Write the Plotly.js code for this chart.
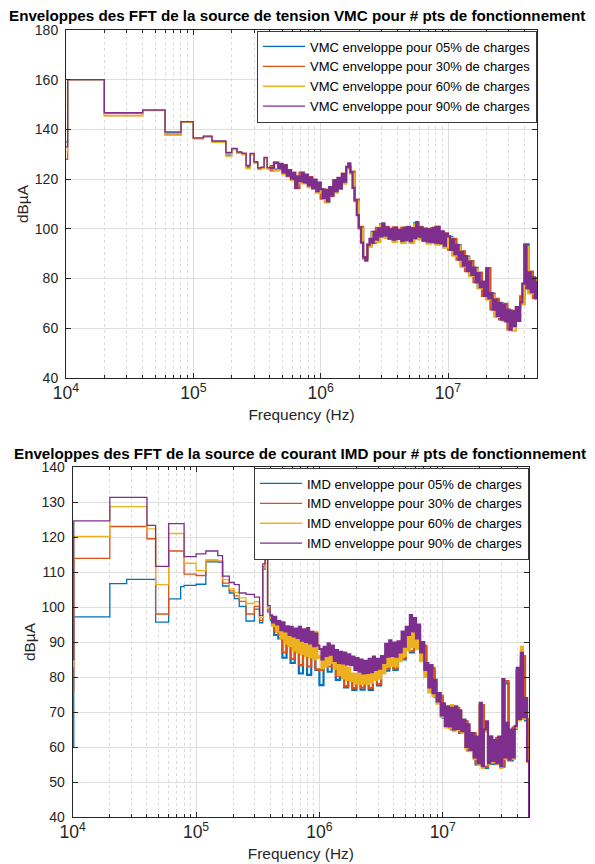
<!DOCTYPE html>
<html><head><meta charset="utf-8">
<script src="https://cdn.plot.ly/plotly-3.0.1.min.js"></script>
<style>html,body{margin:0;padding:0;background:#fff}#chart{width:595px;height:864px}</style>
</head><body><div id="chart"></div>
<script>
// ---------- frequency grids (Hz) ----------
const stepsTopF = [1e4,1.03e4,2e4,4e4,6e4,8e4,1e5,1.2e5,1.4e5,1.6e5,1.8e5,2e5,2.2e5,2.4e5,2.6e5,2.8e5,3e5,3.2e5,3.4e5,3.6e5,3.8e5];
const stepsBotF = [1e4,1.02e4,2e4,2.74e4,4e4,4.7e4,6e4,7.5e4,8e4,1e5,1.2e5,1.5e5,1.64e5,1.86e5,2.04e5,2.24e5,2.54e5,2.97e5,3.27e5,3.47e5,3.63e5,3.8e5];
const gridFine = [3.981e5,4.137e5,4.299e5,4.467e5,4.642e5,4.823e5,5.012e5,5.208e5,5.412e5,5.623e5,5.843e5,6.072e5,6.310e5,6.556e5,6.813e5,7.079e5,7.356e5,7.644e5,7.943e5,8.254e5,8.577e5,8.913e5,9.261e5,9.624e5,
1.000e6,1.039e6,1.080e6,1.122e6,1.166e6,1.212e6,1.259e6,1.308e6,1.359e6,1.413e6,1.468e6,1.525e6,1.585e6,1.647e6,1.711e6,1.778e6,1.848e6,1.920e6,1.995e6,2.073e6,2.154e6,2.239e6,2.326e6,2.417e6,2.512e6,2.610e6,2.712e6,2.818e6,2.929e6,3.043e6,3.162e6,3.286e6,3.415e6,3.548e6,3.687e6,3.831e6,3.981e6,4.137e6,4.299e6,4.467e6,4.642e6,4.823e6,5.012e6,5.208e6,5.412e6,5.623e6,5.843e6,6.072e6,6.310e6,6.556e6,6.813e6,7.079e6,7.356e6,7.644e6,7.943e6,8.254e6,8.577e6,8.913e6,9.261e6,9.624e6,
1.000e7,1.039e7,1.080e7,1.122e7,1.166e7,1.212e7,1.259e7,1.308e7,1.359e7,1.413e7,1.468e7,1.525e7,1.585e7,1.647e7,1.711e7,1.778e7,1.848e7,1.920e7,1.995e7,2.073e7,2.154e7,2.239e7,2.326e7,2.417e7,2.512e7,2.610e7,2.712e7,2.818e7,2.929e7,3.043e7,3.162e7,3.286e7,3.415e7,3.548e7,3.687e7,3.831e7,3.981e7,4.137e7,4.299e7,4.467e7,4.642e7,4.823e7,5.012e7];
const gridCoarse = [3.981e5,4.299e5,4.642e5,5.012e5,5.412e5,5.843e5,6.310e5,6.813e5,7.356e5,7.943e5,8.577e5,9.261e5,
1.000e6,1.080e6,1.166e6,1.259e6,1.359e6,1.468e6,1.585e6,1.711e6,1.848e6,1.995e6,2.154e6,2.326e6,2.512e6,2.712e6,2.929e6,3.162e6,3.415e6,3.687e6,3.981e6,4.299e6,4.642e6,5.012e6,5.412e6,5.843e6,6.310e6,6.813e6,7.356e6,7.943e6,8.577e6,9.261e6,
1.000e7,1.080e7,1.166e7,1.259e7,1.359e7,1.468e7,1.585e7,1.711e7,1.848e7,1.995e7,2.154e7,2.326e7,2.512e7,2.712e7,2.929e7,3.162e7,3.415e7,3.687e7,3.981e7,4.299e7,4.642e7,5.012e7];

// ---------- VMC (top chart) values, dBuA ----------
const vmc05Steps = [135,160,146.6,147.8,138.6,143.1,136.4,137.2,135.2,135.2,130.2,132.2,130.8,130.2,125.0,130.2,126.8,124.4,124.6,128.5,124.4];
const vmc30Steps = [128,160,145.6,147.7,137.8,143.0,136.3,137.0,134.9,134.9,129.5,132.0,130.6,130.0,124.5,130.0,126.6,124.0,124.4,128.4,124.2];
const vmc60Steps = [131,160,145.5,147.6,137.7,142.9,136.2,136.9,134.8,134.8,129.3,131.8,130.4,129.8,124.2,129.8,126.4,123.8,124.2,128.2,124.0];
const vmc90Steps = [133,160,146.8,147.8,139.0,143.1,136.6,137.3,135.4,135.4,130.8,132.4,131.0,130.5,125.5,130.4,127.0,124.5,124.8,128.7,124.6];
const vmc05Noise = [125.2,123.8,126.0,122.4,123.4,120.0,121.0,118.8,121.6,117.0,119.6,114.8,
115.8,110.8,116.6,115.0,120.4,118.6,124.5,122.5,111.2,100.2,88.0,93.0,
98.8,95.4,101.8,96.8,99.8,95.2,99.4,94.8,100.6,94.6,102.2,96.4,99.8,94.4,100.2,94.0,98.8,92.6,
96.8,89.6,93.4,85.0,88.8,81.2,84.2,76.2,78.6,72.0,74.0,64.8,70.0,63.2,67.2,60.8,68.2,69.8,93.8,74.2,80.2,77.0];
const vmc30Noise = [123.5,126.8,124.0,125.6,121.2,122.6,116.4,122.6,118.4,120.8,116.2,118.6,
112.2,115.8,113.2,119.6,116.2,122.2,125.0,123.0,111.8,100.8,88.6,93.8,
94.4,100.4,97.0,100.8,96.0,100.6,96.0,100.5,95.4,100.4,96.2,100.8,95.2,100.0,94.6,100.9,94.0,98.2,
91.6,96.0,87.6,91.0,83.0,87.0,78.6,82.4,73.0,84.2,67.6,71.8,63.6,69.8,59.6,67.0,63.2,72.8,76.2,82.8,72.2,80.6];
const vmc60Noise = [124.8,123.4,125.8,122.0,123.2,119.6,120.6,118.4,121.2,116.8,119.2,114.6,
115.4,110.6,116.2,114.6,120.0,118.2,124.2,122.2,111.0,100.0,87.8,92.8,
98.4,94.8,101.4,96.4,99.4,94.8,99.0,94.4,100.2,94.4,101.8,95.8,99.4,94.0,99.8,93.6,98.4,92.4,
96.4,89.2,93.0,84.8,88.4,81.0,83.8,76.0,78.2,71.6,73.6,64.6,69.6,63.0,66.8,59.0,67.8,69.6,92.8,74.0,79.8,76.6];
const vmc90Noise = [124.5,124.6,126.6,126.4,124.5,126.2,122.7,125.5,121.5,123.6,120.2,122.4,116.5,121.0,119.2,122.5,118.8,121.8,117.5,120.6,116.5,119.8,115.2,118.5,
116.0,112.5,115.6,111.0,116.8,113.5,119.5,115.2,120.5,116.4,122.0,119.0,124.8,126.4,122.8,116.5,111.5,105.5,100.5,94.5,
88.5,87.2,93.5,96.0,94.5,98.8,95.8,100.2,97.0,102.2,97.4,100.5,96.2,100.0,95.7,100.4,96.0,99.6,95.2,100.3,
95.6,100.8,95.1,100.2,96.3,102.7,97.0,100.5,95.4,100.1,95.0,99.8,94.8,100.4,94.5,100.7,94.3,99.0,93.2,98.0,
97.0,91.5,95.8,89.8,93.6,87.6,90.8,85.2,89.0,83.0,86.8,81.5,84.4,78.5,82.2,76.5,78.8,73.0,84.0,72.0,
74.2,67.5,71.5,65.0,70.2,63.5,69.5,62.8,67.5,59.5,66.8,61.0,68.5,63.0,70.5,78.0,93.5,76.0,82.5,74.5,80.5,72.0,79.0];

// ---------- IMD (bottom chart) values, dBuA ----------
const imd05Steps = [60,97.2,106.7,107.9,107.9,95.7,102.3,105.8,106.2,106.5,112.9,112.8,106.0,104.0,102.4,100.2,96.0,99.4,95.5,110.8,117.3,98.6];
const imd30Steps = [76,113.9,123.0,123.0,119.5,98.0,116.0,116.0,109.4,109.0,113.4,113.0,106.8,104.6,103.2,101.6,98.0,100.2,96.2,111.5,117.8,99.2];
const imd60Steps = [83,120.2,128.7,128.7,122.3,106.4,121.0,121.0,112.5,110.4,113.4,113.2,107.8,105.2,104.2,102.6,101.0,101.5,97.0,111.2,117.4,99.6];
const imd90Steps = [85,124.6,131.3,131.3,123.3,111.6,123.8,123.8,114.4,115.2,116.0,114.7,108.8,107.0,106.4,104.0,103.6,102.8,97.6,112.3,118.0,100.4];
const imd05Noise = [96.2,92.0,91.0,85.5,90.4,84.0,88.8,81.0,87.5,80.6,86.2,82.0,
77.7,86.0,81.5,85.2,79.2,80.6,77.0,80.2,76.3,79.6,76.4,79.2,
76.3,80.0,77.6,81.6,81.8,85.6,82.0,86.4,85.0,89.6,87.0,92.4,88.0,88.6,81.0,82.0,74.4,74.0,
68.4,70.6,65.0,70.6,64.0,67.0,59.0,63.6,55.0,71.4,54.0,62.6,55.2,62.2,54.4,78.2,56.2,65.2,81.4,85.4,67.6,50.0];
const imd30Noise = [96.8,93.0,92.0,87.0,91.0,85.2,89.6,83.4,88.0,83.0,86.8,82.2,
82.0,86.5,83.0,86.0,80.4,81.0,77.4,80.5,76.8,80.0,77.0,79.6,
76.8,80.2,78.0,82.0,82.4,86.0,82.4,86.5,85.2,90.0,87.4,92.0,88.4,89.0,81.5,82.6,74.8,74.6,
68.8,71.0,65.2,71.2,64.4,67.4,59.2,64.0,55.4,72.0,54.4,63.0,55.6,62.6,54.8,78.8,56.6,65.6,82.0,86.0,68.0,52.0];
const imd60Noise = [96.8,94.6,96.0,93.0,94.6,91.0,93.5,89.5,92.8,88.8,92.4,87.6,92.0,87.0,91.6,86.6,91.2,86.0,90.4,85.6,91.0,85.0,92.9,85.4,
86.0,82.5,86.4,83.0,88.5,84.0,87.2,82.4,84.8,80.6,83.9,79.6,83.4,79.2,82.6,78.8,81.0,78.2,80.8,78.0,
81.0,78.2,80.6,78.0,81.2,78.4,83.0,79.2,83.9,79.6,84.6,81.0,87.0,83.0,87.7,83.2,87.0,83.0,87.4,84.5,
90.5,86.0,91.5,87.7,92.4,88.5,93.0,88.0,92.0,84.5,88.4,80.0,82.6,75.6,82.0,74.6,78.4,72.4,74.6,68.6,
71.8,65.6,71.0,65.4,72.0,64.6,70.8,64.8,69.8,64.0,67.0,59.6,65.8,58.8,63.4,56.6,62.4,55.0,72.0,54.0,
64.4,66.8,55.0,62.4,55.6,61.4,55.0,62.4,54.0,78.6,56.6,66.2,56.0,64.4,56.6,65.4,82.0,67.6,88.6,68.0,73.4,55.6,41.0];
const imd90Noise = [97.6,95.6,97.2,95.0,96.0,93.4,95.6,93.0,94.5,92.0,94.3,91.6,93.8,91.2,94.3,90.4,93.6,90.0,94.0,89.6,92.9,88.8,92.4,89.0,
88.0,85.0,88.6,86.0,89.6,86.4,89.0,84.6,87.7,84.0,87.2,83.9,87.0,83.6,86.5,83.4,85.8,82.0,85.4,81.5,
85.0,81.0,84.6,81.2,85.2,81.4,85.8,82.0,85.2,82.4,86.0,84.0,89.5,85.8,90.5,86.0,89.8,85.8,90.2,87.0,
93.0,88.7,94.3,92.0,97.7,93.0,96.8,91.0,95.0,87.0,90.0,82.0,84.0,77.0,83.4,75.4,79.2,73.0,75.4,69.0,
72.5,66.0,71.6,65.9,71.2,65.0,71.6,65.2,70.5,64.5,67.8,60.0,66.5,59.2,64.0,57.0,63.0,55.4,72.6,54.5,
65.0,67.3,55.4,63.0,56.0,62.0,55.4,63.0,54.5,79.4,57.0,66.9,56.4,65.0,57.0,66.0,82.6,68.0,86.9,68.5,74.0,56.0,40.0];

const loads = ['05','30','60','90'];
const colors = ['#0072BD','#D95319','#EDB120','#7E2F8E'];
const FONT = 'Liberation Sans, Arial, Helvetica, sans-serif';

// each series = a stair trace for the low-frequency bins + a denser band trace for the noisy part
function series(sx, sy, nx, ny, i, prefix, xa, ya, leg) {
  const name = prefix + ' enveloppe pour ' + loads[i] + '% de charges';
  const grp = prefix + i;
  return [
    {x: sx.concat(nx.slice(0, 1)), y: sy.concat(ny.slice(0, 1)), type: 'scatter', mode: 'lines',
     line: {shape: 'hv', color: colors[i], width: 1.3, simplify: false},
     name: name, legendgroup: grp, xaxis: xa, yaxis: ya, legend: leg, hoverinfo: 'skip'},
    {x: nx, y: ny, type: 'scatter', mode: 'lines',
     line: {shape: 'hv', color: colors[i], width: 2.2, simplify: false},
     name: name, legendgroup: grp, showlegend: false, xaxis: xa, yaxis: ya, legend: leg, hoverinfo: 'skip'}
  ];
}

const data = [].concat(
  series(stepsTopF, vmc05Steps, gridCoarse, vmc05Noise, 0, 'VMC', 'x', 'y', 'legend'),
  series(stepsTopF, vmc30Steps, gridCoarse, vmc30Noise, 1, 'VMC', 'x', 'y', 'legend'),
  series(stepsTopF, vmc60Steps, gridCoarse, vmc60Noise, 2, 'VMC', 'x', 'y', 'legend'),
  series(stepsTopF, vmc90Steps, gridFine,   vmc90Noise, 3, 'VMC', 'x', 'y', 'legend'),
  series(stepsBotF, imd05Steps, gridCoarse, imd05Noise, 0, 'IMD', 'x2', 'y2', 'legend2'),
  series(stepsBotF, imd30Steps, gridCoarse, imd30Noise, 1, 'IMD', 'x2', 'y2', 'legend2'),
  series(stepsBotF, imd60Steps, gridFine,   imd60Noise, 2, 'IMD', 'x2', 'y2', 'legend2'),
  series(stepsBotF, imd90Steps, gridFine,   imd90Noise, 3, 'IMD', 'x2', 'y2', 'legend2')
);

const tickFont = {family: FONT, size: 14, color: '#262626'};
const titleFont = {family: FONT, size: 15.4, color: '#262626'};
function xax(dom, anchor) {
  return {domain: dom, anchor: anchor, type: 'log', range: [4, Math.log10(5e7)], dtick: 1,
    exponentformat: 'power', showexponent: 'all', tickfont: tickFont,
    showline: true, linecolor: '#262626', linewidth: 1, mirror: 'ticks',
    ticks: 'inside', ticklen: 5, tickcolor: '#262626',
    showgrid: true, gridcolor: '#dedede', gridwidth: 1, zeroline: false,
    minor: {dtick: 'D1', ticks: 'inside', ticklen: 3, tickcolor: '#262626',
            showgrid: true, gridcolor: '#dcdcdc', griddash: 'dot', gridwidth: 1},
    title: {text: 'Frequency (Hz)', font: titleFont, standoff: 6}};
}
function yax(dom, anchor, rng, dt) {
  return {domain: dom, anchor: anchor, range: rng, dtick: dt, tickfont: tickFont,
    showline: true, linecolor: '#262626', linewidth: 1, mirror: 'ticks',
    ticks: 'inside', ticklen: 5, tickcolor: '#262626', ticklabelstandoff: 4,
    showgrid: true, gridcolor: '#dedede', gridwidth: 1, zeroline: false,
    title: {text: 'dBµA', font: titleFont, standoff: 2}};
}
const legendBase = {xanchor: 'right', yanchor: 'top', bgcolor: '#ffffff', itemwidth: 42,
  tracegroupgap: 0, bordercolor: '#3a3a3a', borderwidth: 1,
  font: {family: FONT, size: 13, color: '#000'}};

const layout = {
  width: 595, height: 864, margin: {l: 0, r: 0, t: 0, b: 0},
  paper_bgcolor: '#fff', plot_bgcolor: '#fff', showlegend: true,
  xaxis: xax([66/595, 537/595], 'y'),
  yaxis: yax([1 - 378/864, 1 - 30/864], 'x', [40, 180], 20),
  xaxis2: xax([72.7/595, 529/595], 'y2'),
  yaxis2: yax([1 - 817/864, 1 - 467/864], 'x2', [40, 140], 10),
  legend: Object.assign({x: 537/595, y: 1 - 30.5/864}, legendBase),
  legend2: Object.assign({x: 529/595, y: 1 - 467.5/864}, legendBase),
  annotations: [
    {text: '<b>Enveloppes des FFT de la source de tension VMC pour # pts de fonctionnement</b>',
     xref: 'paper', yref: 'paper', x: 297/595, y: 1 - 16/864, xanchor: 'center', yanchor: 'middle',
     showarrow: false, font: {family: FONT, size: 15.2, color: '#000'}},
    {text: '<b>Enveloppes des FFT de la source de courant IMD pour # pts de fonctionnement</b>',
     xref: 'paper', yref: 'paper', x: 300/595, y: 1 - 454/864, xanchor: 'center', yanchor: 'middle',
     showarrow: false, font: {family: FONT, size: 15.2, color: '#000'}}
  ]
};
Plotly.newPlot('chart', data, layout, {staticPlot: true, displayModeBar: false});
</script>
</body></html>
